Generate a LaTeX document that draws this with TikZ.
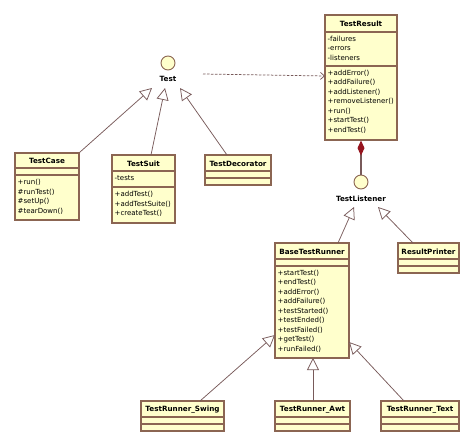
\documentclass[tikz,border=0pt]{standalone}
\usepackage{fontspec}
\setmainfont{DejaVu Sans}
\usetikzlibrary{arrows.meta,fit}
\definecolor{clsfill}{RGB}{255,255,204}
\definecolor{clsedge}{RGB}{139,101,82}
\definecolor{linkcol}{RGB}{120,90,90}
\definecolor{diacol}{RGB}{150,20,30}
\tikzset{
  cls/.style={draw=clsedge, fill=clsfill, line width=1.1pt, inner sep=0pt, rectangle},
  sepline/.style={draw=clsedge, line width=1.1pt},
  ttl/.style={font=\fontsize{7.2}{9}\selectfont\bfseries, inner sep=0pt},
  lst/.style={font=\fontsize{7}{9.5}\selectfont, align=left, inner sep=0pt, anchor=north west},
  iface/.style={circle, draw=clsedge, fill=clsfill, line width=0.9pt, minimum size=14pt, inner sep=0pt},
  gen/.style={draw=linkcol, line width=0.75pt, -{Triangle[open, length=12pt, width=12pt, fill=white]}},
  dep/.style={draw=linkcol, line width=0.75pt, dash pattern=on 2.5pt off 1.5pt, -{Straight Barb[length=4pt, width=7pt]}},
  comp/.style={draw=linkcol, line width=1.1pt, -{Diamond[length=15pt, width=7pt, fill=diacol, color=diacol]}}
}
\newcommand\umlcls[8]{%
  \node[cls, fit={(#2,#3) (#4,#5)}] (#1) {};
  \draw[sepline] (#2,#6) -- (#4,#6);
  \draw[sepline] (#2,#7) -- (#4,#7);
  \node[ttl] (#1title) at ({(#2+#4)/2},{(#3+#6)/2+0.5}) {#8};
}
\begin{document}
\begin{tikzpicture}[x=1pt,y=-1pt]
\useasboundingbox (0,0) rectangle (474,446);

% interfaces
\node[iface] (test) at (168,63) {};
\node[ttl] (testlbl) at (168,79) {Test};
\node[iface] (tlis) at (361,182) {};
\node[ttl] (tlislbl) at (361,199) {TestListener};

% classes
\umlcls{tr}{325}{15}{397}{140}{32}{66}{TestResult}
\node[lst] (tratt) at (327.5,35.5) {-failures\\-errors\\-listeners};
\node[lst] (trmeth) at (327.5,69.5) {+addError()\\+addFailure()\\+addListener()\\+removeListener()\\+run()\\+startTest()\\+endTest()};

\umlcls{tc}{15}{153}{79}{220}{168}{175}{TestCase}
\node[lst] (tcmeth) at (17.5,179) {+run()\\\#runTest()\\\#setUp()\\\#tearDown()};

\umlcls{ts}{112}{155}{175}{223}{171}{187}{TestSuit}
\node[lst] (tsatt) at (114.5,175) {-tests};
\node[lst] (tsmeth) at (114.5,191) {+addTest()\\+addTestSuite()\\+createTest()};

\umlcls{td}{205}{155}{271}{185}{171}{178}{TestDecorator}

\umlcls{btr}{275}{243}{349}{358}{259}{266}{BaseTestRunner}
\node[lst] (btrmeth) at (277.5,269.5) {+startTest()\\+endTest()\\+addError()\\+addFailure()\\+testStarted()\\+testEnded()\\+testFailed()\\+getTest()\\+runFailed()};

\umlcls{rp}{398}{243}{459}{273}{259}{266}{ResultPrinter}

\umlcls{trs}{141}{401}{224}{431}{417}{424}{TestRunner\_Swing}
\umlcls{tra}{275}{401}{350}{431}{417}{424}{TestRunner\_Awt}
\umlcls{trt}{381}{401}{459}{431}{417}{424}{TestRunner\_Text}

% arrow tip coordinates
\coordinate (g1) at (152,88);
\coordinate (g2) at (165,88);
\coordinate (g3) at (180,88);
\coordinate (g4) at (354,207);
\coordinate (g5) at (378,207);
\coordinate (g6) at (275,335);
\coordinate (g7) at (313,358);
\coordinate (g8) at (349,342);
\coordinate (d0) at (203,74);
\coordinate (d1) at (325,76);

% connectors
\draw[gen] (tc.north east) -- (g1);
\draw[gen] (151,155) -- (g2);
\draw[gen] (227,155) -- (g3);
\draw[gen] (338,243) -- (g4);
\draw[gen] (413,243) -- (g5);
\draw[gen] (200,401) -- (g6);
\draw[gen] (313,401) -- (g7);
\draw[gen] (404,401) -- (g8);
\draw[dep] (d0) -- (d1);
\draw[comp] (tlis.north) -- (tr.south);
\end{tikzpicture}
\end{document}
